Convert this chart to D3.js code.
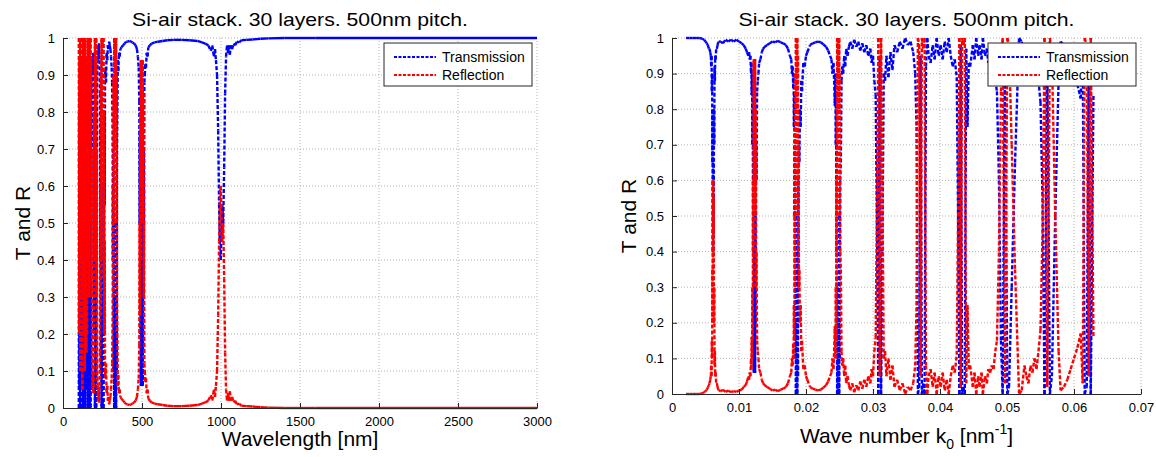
<!DOCTYPE html>
<html>
<head>
<meta charset="utf-8">
<script src="https://cdnjs.cloudflare.com/ajax/libs/d3/7.8.5/d3.min.js"></script>
<style>
  body { margin: 0; background: #fff; }
  svg { display: block; font-family: "Liberation Sans", Arial, sans-serif; }
</style>
</head>
<body>
<svg id="viz"></svg>
<script>
var width = 1156;
var height = 457;

var wavelength = [
  100,102,104,106,108,110,112,114,116,118,120,122,124,126,128,130,132,134,136,138,140,142,144,146,148,150,
  152,154,156,158,160,162,164,166,168,170,172,174,176,178,180,182,184,
  187,190,193,
  196,198,200,202,204,206,208,210,212,214,216,
  219,222,225,228,231,
  234,236,238,240,242,244,246,248,250,252,254,256,258,260,262,264,266,
  269,272,276,280,284,288,292,296,300,304,308,311,
  314,316,318,320,322,324,326,328,330,332,334,336,338,340,342,344,
  347,350,354,358,363,370,380,390,400,410,420,430,440,450,460,468,474,479,
  483,485,487,489,491,493,495,497,499,501,503,505,507,509,511,513,515,
  518,521,525,530,535,540,550,560,
  580,600,630,660,700,750,800,850,880,900,920,935,945,955,962,968,
  975,982,988,994,998,1002,1008,1014,1020,1026,1032,1038,1044,1050,1056,1062,1070,1080,1090,1100,1115,1130,
  1160,1200,1250,1300,1400,1600,2000,2500,3000
];
var transWl = [
  0,.8,.05,.6,0,.9,.1,.4,0,.7,.05,.95,.2,0,.5,.05,.8,0,.3,.9,.1,0,.6,.05,.85,.4,
  .8,.1,.6,0,.4,0,.7,0,.05,0,.5,0,.3,.05,.7,.3,.85,
  .95,.9,.96,
  .8,.2,.6,0,.4,0,.5,0,.7,.3,.9,
  .94,.98,.95,.985,.94,
  .85,.4,.75,.1,.6,0,.3,0,.02,0,.4,0,.65,.2,.8,.55,.9,
  .92,.88,.96,.94,.98,.97,.99,.98,.97,.95,.92,.88,
  .75,.4,.7,.1,.5,0,.3,0,.02,0,.2,0,.5,.1,.7,.8,
  .94,.91,.96,.95,.97,.975,.98,.985,.99,.99,.992,.99,.988,.985,.98,.97,.95,.92,
  .83,.5,.75,.2,.6,.06,.4,.06,.1,.06,.3,.06,.5,.15,.7,.5,.88,
  .9,.93,.92,.96,.95,.975,.98,.985,
  .988,.99,.992,.994,.995,.995,.994,.992,.988,.985,.98,.965,.98,.95,.97,.94,
  .9,.75,.55,.42,.4,.45,.55,.5,.65,.85,.95,.98,.96,.98,.955,.98,.97,.985,.98,.99,.988,.994,
  .995,.996,.998,.999,1,1,1,1,1
];
var reflWl = [
  1,.2,.95,.4,1,.1,.9,.6,1,.3,.95,.05,.8,1,.5,.95,.2,1,.7,.1,.9,1,.4,.95,.15,.6,
  .2,.9,.4,1,.6,1,.3,1,.95,1,.5,1,.7,.95,.3,.7,.15,
  .05,.1,.04,
  .2,.8,.4,1,.6,1,.5,1,.3,.7,.1,
  .06,.02,.05,.015,.06,
  .15,.6,.25,.9,.4,1,.7,1,.98,1,.6,1,.35,.8,.2,.45,.1,
  .08,.12,.04,.06,.02,.03,.01,.02,.03,.05,.08,.12,
  .25,.6,.3,.9,.5,1,.7,1,.98,1,.8,1,.5,.9,.3,.2,
  .06,.09,.04,.05,.03,.025,.02,.015,.01,.01,.008,.01,.012,.015,.02,.03,.05,.08,
  .17,.5,.25,.8,.4,.94,.6,.94,.9,.94,.7,.94,.5,.85,.3,.5,.12,
  .1,.07,.08,.04,.05,.025,.02,.015,
  .012,.01,.008,.006,.005,.005,.006,.008,.012,.015,.02,.035,.02,.05,.03,.06,
  .1,.25,.45,.58,.6,.55,.45,.5,.35,.15,.05,.02,.04,.02,.045,.02,.03,.015,.02,.01,.012,.006,
  .005,.004,.002,.001,0,0,0,0,0
];

var waveNumber = [
  .0021,.0026,.0031,.0036,.0041,.0045,.0048,.0050,.0052,.00535,.0055,
  .0056,.0057,.0058,.00585,.0059,.00595,.0060,.00603,.00606,.0061,.00613,.00616,.0062,.00623,.00626,.0063,.00635,.0064,.00645,.0065,.0066,.0067,.0068,.0069,.0070,
  .0073,.0076,.0080,.0084,.0088,.0092,.0096,.0100,.0104,.0107,.0110,.0112,.0114,
  .0115,.0116,.0117,.0118,.01185,.0119,.01195,.0120,.01205,.0121,.01215,.0122,.01225,.0123,.01235,.0124,.01245,.0125,.01255,.0126,.0127,.0128,.0129,.0130,.0132,.0134,.0136,.0138,
  .0142,.0146,.0150,.0154,.0158,.0162,.0166,.0170,.0173,.0176,
  .0178,.0179,.0180,.0181,.01815,.0182,.01825,.0183,.01835,.0184,.01845,.0185,.01855,.0186,.01865,.0187,.01875,.0188,.01885,.0189,.01895,.0190,.0191,.0192,.0193,.0194,.0196,.0198,.0200,.0202,
  .0206,.0210,.0214,.0218,.0222,.0226,.0230,.0233,.0236,
  .0238,.02395,.0241,.0242,.0243,.0244,.02445,.0245,.02455,.0246,.02465,.0247,.02475,.0248,.02485,.0249,.02495,.0250,.02505,.0251,.0252,.0253,.0254,.02555,.0257,.02585,.0260,.0262,.0264,
  .0266,.0269,.0272,.0275,.0278,.0281,.0284,.0287,.0290,.0293,.0296,.0298,.0300,.0302,
  .0304,.0306,.0308,.0310,.0312,.0314,.0316,.0318,
  .0320,.0323,.0326,.0329,.0332,.0336,.0340,.0344,.0348,.0352,.0356,.0360,.0363,
  .0365,.0367,.0369,.0371,.0373,.0375,.0377,.0379,.0381,.0383,
  .0386,.0389,.0392,.0395,.0398,.0401,.0404,.0407,.0410,.0413,.0416,.0419,.0422,.0425,
  .0427,.0429,.0431,.0433,.0435,.0437,.0439,.0441,.0443,.0445,
  .0449,.04515,.0454,.0457,.0459,.0462,.0464,.0467,.0470,.0472,.0475,.0477,.0480,.04825,
  .0485,.0488,.0491,.04935,.0497,.05005,.0503,.0507,.0512,.0518,
  .0522,.0526,.0529,.0532,.0535,.0538,.0541,.0544,.0547,.0550,
  .0553,.0556,.0560,.0564,.0567,.0572,.0577,.0580,
  .0585,.0590,.0595,.0600,.0605,.0610,.0613,.0616,.0619,.0622,.0625,.0629
];
var transK = [
  1,1,1,1,1,.998,.995,.99,.985,.98,.97,
  .97,.96,.95,.92,.95,.85,.9,.65,.8,.4,.65,.4,.55,.45,.8,.7,.92,.88,.95,.94,.97,.97,.98,.988,.99,
  .99,.985,.995,.99,.995,.99,.995,.99,.985,.98,.97,.96,.95,
  .96,.94,.95,.9,.93,.84,.9,.7,.85,.4,.7,.06,.4,.06,.25,.06,.5,.2,.7,.6,.85,.88,.9,.93,.94,.96,.97,.975,
  .98,.985,.99,.988,.992,.988,.985,.98,.97,.95,
  .94,.9,.92,.86,.9,.75,.85,.5,.7,.1,.5,0,.2,0,.1,0,.4,.05,.6,.3,.7,.65,.8,.75,.88,.85,.93,.92,.95,.96,
  .98,.985,.988,.99,.988,.982,.975,.965,.95,
  .94,.9,.93,.88,.81,.9,.7,.85,.4,.7,0,.3,0,.1,0,.2,0,.5,.1,.6,.65,.88,.92,.9,.95,.92,.97,.95,.975,
  .99,.97,.995,.975,.99,.965,.985,.96,.98,.95,.97,.93,.95,.88,
  .84,.45,0,.95,0,.40,.90,.88,
  .95,.89,.96,.91,.98,.96,.99,.97,1,.98,.99,.96,.90,
  .75,0,.02,.95,0,.03,0,.92,1,.95,
  .93,.98,.94,1,.95,.98,.94,.99,.96,1,.95,.92,.94,.89,
  .5,0,.98,0,.02,0,.97,.75,.93,.92,
  .98,.94,1,.95,.98,.94,1,.95,.97,.93,.94,.92,.93,.88,
  .85,.60,.15,0,.97,0,.02,.30,.65,1,
  .99,.92,.95,.97,.92,.94,.90,.93,.88,.82,
  .55,0,.98,0,.05,.50,.88,.99,
  .98,.96,.93,.90,.87,.83,.97,0,.02,.95,0,.84
];
var reflK = [
  0,0,0,0,0,.002,.005,.008,.012,.018,.025,
  .03,.04,.05,.08,.05,.15,.1,.35,.2,.6,.35,.6,.45,.55,.2,.3,.08,.12,.05,.06,.03,.03,.02,.012,.01,
  .008,.012,.006,.01,.005,.008,.006,.01,.012,.02,.025,.035,.05,
  .04,.06,.05,.1,.07,.16,.1,.3,.15,.6,.3,.94,.6,.94,.75,.94,.5,.8,.3,.4,.15,.12,.1,.07,.06,.04,.03,.025,
  .02,.015,.01,.012,.008,.012,.015,.02,.03,.05,
  .06,.1,.08,.14,.1,.25,.15,.5,.3,.9,.5,1,.8,1,.9,1,.6,.95,.4,.7,.3,.35,.2,.25,.12,.15,.07,.08,.05,.04,
  .02,.015,.012,.01,.012,.018,.025,.035,.05,
  .06,.1,.07,.12,.19,.1,.3,.15,.6,.3,1,.7,1,.9,1,.8,1,.5,.9,.4,.35,.12,.08,.1,.05,.08,.03,.05,.025,
  .01,.03,.005,.025,.01,.035,.015,.04,.02,.05,.03,.07,.05,.12,
  .16,.55,1,.05,1,.60,.10,.12,
  .05,.10,.04,.08,.02,.04,.01,.03,0,.02,.01,.03,.08,
  .25,1,.98,.05,1,.97,1,.08,0,.05,
  .07,.02,.06,0,.05,.02,.06,.01,.04,0,.05,.08,.06,.11,
  .5,1,.02,1,.98,1,.03,.25,.07,.08,
  .02,.06,0,.05,.02,.06,0,.05,.03,.07,.06,.08,.07,.12,
  .15,.40,.85,1,.03,1,.98,.70,.35,0,
  .01,.08,.05,.03,.08,.06,.10,.07,.12,.18,
  .45,1,.02,1,.95,.50,.12,.01,
  .02,.04,.07,.10,.13,.17,.03,1,.98,.05,1,.16
];

var yTicks = [0, 0.1, 0.2, 0.3, 0.4, 0.5, 0.6, 0.7, 0.8, 0.9, 1];
var wlTicks = [0, 500, 1000, 1500, 2000, 2500, 3000];
var kTicks = [0, 0.01, 0.02, 0.03, 0.04, 0.05, 0.06, 0.07];
var seriesNames = ["Transmission", "Reflection"];
var seriesColors = ["#0000ff", "#ff0000"];
var titleText = "Si-air stack. 30 layers. 500nm pitch.";

if (wavelength.length != transWl.length || wavelength.length != reflWl.length) console.log("left data length mismatch");
if (waveNumber.length != transK.length || waveNumber.length != reflK.length) console.log("right data length mismatch");

var svg = d3.select("#viz").attr("width", width).attr("height", height);
svg.append("rect").attr("width", width).attr("height", height).attr("fill", "#fff");

// each segment restarts its dash pattern, so dense data looks solid
function drawSeries(g, xs, ys, x, y, color) {
    for (var i = 0; i < xs.length - 1; i++) {
        var x1 = x(xs[i]), y1 = y(ys[i]), x2 = x(xs[i + 1]), y2 = y(ys[i + 1]);
        var seg = g.append("line")
            .attr("x1", x1).attr("y1", y1).attr("x2", x2).attr("y2", y2)
            .attr("stroke", color)
            .attr("stroke-width", 2.4);
        if (Math.abs(y2 - y1) >= 3) seg.attr("stroke-dasharray", "4,2");
    }
}

function drawPanel(p) {
    var x = d3.scaleLinear().domain(p.xDomain).range([p.left, p.right]);
    var y = d3.scaleLinear().domain([0, 1]).range([p.bottom, p.top]);
    var g = svg.append("g");

    // dotted grid
    g.append("g").selectAll("line").data(p.xTicks.slice(1)).enter().append("line")
        .attr("x1", function(d) { return x(d); }).attr("x2", function(d) { return x(d); })
        .attr("y1", p.top).attr("y2", p.bottom)
        .attr("stroke", "#b4b4b4").attr("stroke-dasharray", "1,2");
    g.append("g").selectAll("line").data(yTicks.slice(1)).enter().append("line")
        .attr("y1", function(d) { return y(d); }).attr("y2", function(d) { return y(d); })
        .attr("x1", p.left).attr("x2", p.right)
        .attr("stroke", "#b4b4b4").attr("stroke-dasharray", "1,2");

    var lines = g.append("g");
    drawSeries(lines, p.xs, p.trans, x, y, seriesColors[0]);
    drawSeries(lines, p.xs, p.refl, x, y, seriesColors[1]);

    var xAxis = g.append("g").attr("transform", "translate(0," + p.bottom + ")")
        .call(d3.axisBottom(x).tickValues(p.xTicks).tickFormat(function(d) { return String(d); })
            .tickSizeInner(-5).tickSizeOuter(0).tickPadding(9));
    var yAxis = g.append("g").attr("transform", "translate(" + p.left + ",0)")
        .call(d3.axisLeft(y).tickValues(yTicks).tickFormat(function(d) { return String(d); })
            .tickSizeInner(-5).tickSizeOuter(0).tickPadding(8));
    [xAxis, yAxis].forEach(function(a) {
        a.selectAll("path, line").attr("stroke", "#262626");
        a.selectAll("text").attr("fill", "#000").style("font-size", "13px")
            .style("font-family", '"Liberation Sans", Arial, sans-serif');
    });

    var cx = (p.left + p.right) / 2;
    g.append("text").attr("x", cx).attr("y", 26).attr("text-anchor", "middle")
        .attr("textLength", 336).attr("lengthAdjust", "spacingAndGlyphs")
        .style("font-size", "19px").text(titleText);

    var yl = (p.top + p.bottom) / 2;
    g.append("text").attr("transform", "translate(" + p.yLabelX + "," + yl + ") rotate(-90)")
        .attr("text-anchor", "middle").style("font-size", "21px").text("T and R");

    p.xLabel(g.append("text").attr("x", cx).attr("y", p.xLabelY)
        .attr("text-anchor", "middle").style("font-size", "21px"));

    // legend
    var lg = g.append("g").attr("transform", "translate(" + (p.right - 153) + "," + (p.top + 5) + ")");
    lg.append("rect").attr("width", 148).attr("height", 43)
        .attr("fill", "#fff").attr("stroke", "#262626");
    seriesNames.forEach(function(name, i) {
        var ly = 14 + i * 18;
        lg.append("line").attr("x1", 10).attr("x2", 52).attr("y1", ly).attr("y2", ly)
            .attr("stroke", seriesColors[i]).attr("stroke-width", 2).attr("stroke-dasharray", "3,1.5");
        lg.append("text").attr("x", 58).attr("y", ly + 5).style("font-size", "14px").text(name);
    });
}

drawPanel({
    left: 63, right: 537, top: 38, bottom: 408,
    xDomain: [0, 3000], xTicks: wlTicks,
    xs: wavelength, trans: transWl, refl: reflWl,
    yLabelX: 30, xLabelY: 446,
    xLabel: function(t) { t.text("Wavelength [nm]"); }
});

drawPanel({
    left: 672, right: 1141, top: 38, bottom: 394,
    xDomain: [0, 0.07], xTicks: kTicks,
    xs: waveNumber, trans: transK, refl: reflK,
    yLabelX: 636, xLabelY: 443,
    xLabel: function(t) {
        t.append("tspan").text("Wave number k");
        t.append("tspan").attr("dy", 6).style("font-size", "14px").text("0");
        t.append("tspan").attr("dy", -6).text(" [nm");
        t.append("tspan").attr("dy", -9).style("font-size", "14px").text("-1");
        t.append("tspan").attr("dy", 9).text("]");
    }
});
</script>
</body>
</html>
